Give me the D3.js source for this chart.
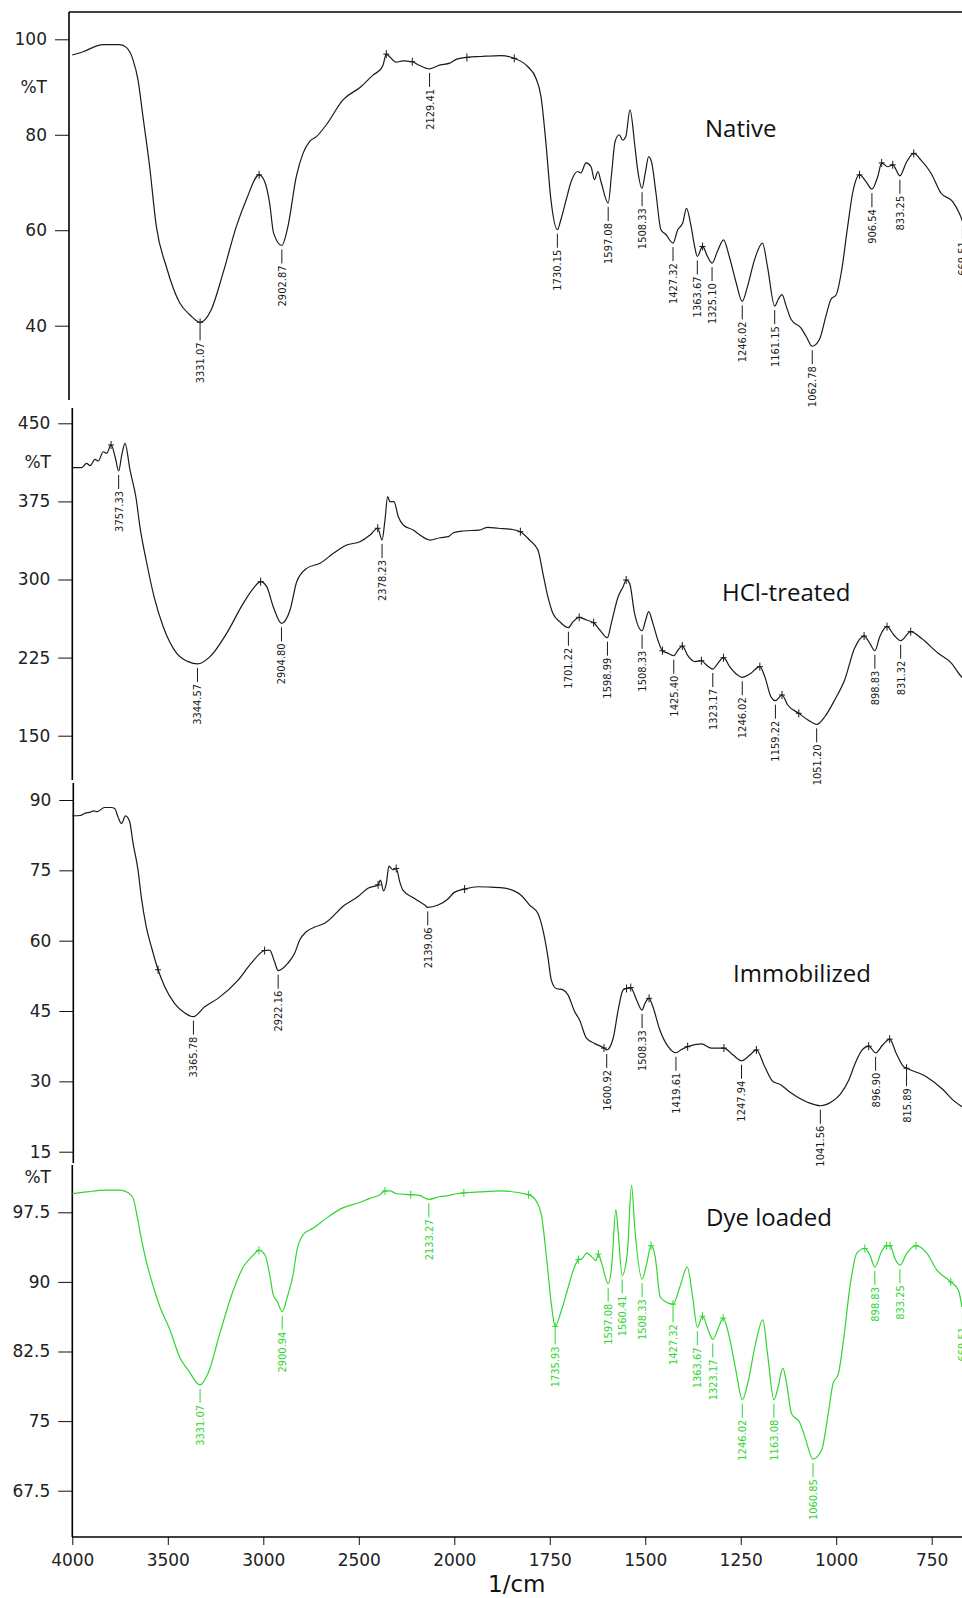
<!DOCTYPE html>
<html>
<head>
<meta charset="utf-8">
<script src="https://cdn.jsdelivr.net/npm/d3@7"></script>
<style>
  body { margin: 0; background: #fff; }
  svg { display: block; }
  .tick text { font-family: "DejaVu Sans", sans-serif; font-size: 17px; fill: #222; }
  .peak text { font-family: "Liberation Sans Narrow", "DejaVu Sans Condensed", sans-serif; font-stretch: condensed; font-size: 11px; }
</style>
</head>
<body>
<div id="chart"></div>
<script>
const svgWidth = 962;
const svgHeight = 1598;

// x ticks (1/cm)
const wnTicks = [4000, 3500, 3000, 2500, 2000, 1750, 1500, 1250, 1000, 750];
const seriesNames = ["Native", "HCl-treated", "Immobilized", "Dye loaded"];

// Native  [wavenumber, %T]
const nativeTicks = [100, 80, 60, 40];
const nativeData = [[4000,96.7],[3944,97.4],[3839,98.9],[3752,98.9],[3717,98.3],[3682,95.7],[3656,91.5],[3630,83.8],[3595,73.3],[3560,60.8],[3508,52.4],[3438,44.8],[3385,42.3],[3331.07,40.7],[3272,43.4],[3211,51.0],[3141,60.8],[3089,66.4],[3022,71.6],[2993,70.2],[2967,65.7],[2946,59.4],[2902.87,56.8],[2871,60.8],[2827,71.3],[2792,76.1],[2757,78.6],[2722,79.6],[2670,82.1],[2583,87.3],[2487,90.1],[2426,92.5],[2382,93.9],[2373,94.6],[2356,96.9],[2340,96.4],[2304,95.2],[2269,95.5],[2220,95.3],[2181,94.5],[2129.41,93.8],[2077,94.6],[2024,95.0],[1995,95.8],[1967,96.2],[1930,96.4],[1878,96.6],[1843,96.0],[1808,94.3],[1786,91.8],[1773,88.0],[1760,78.2],[1747,66.4],[1730.15,60.1],[1721,62.2],[1707,66.4],[1694,70.2],[1677,72.3],[1669,72.0],[1655,74.1],[1642,73.3],[1633,70.6],[1624,72.3],[1616,70.2],[1597.08,65.7],[1588,72.0],[1579,78.6],[1568,80.0],[1559,78.9],[1551,79.6],[1540,85.2],[1527,77.5],[1520,72.7],[1508.33,68.8],[1500,72.0],[1491,75.4],[1483,74.1],[1472,67.8],[1459,60.1],[1446,59.1],[1427.32,57.3],[1415,60.1],[1402,61.5],[1392,64.6],[1380,60.8],[1370,56.3],[1363.67,54.5],[1350,56.6],[1337,54.5],[1325.10,53.1],[1311,55.6],[1295,58.0],[1280,54.5],[1262,49.0],[1246.02,45.1],[1232,48.3],[1214,53.8],[1193,57.3],[1180,52.4],[1161.15,44.1],[1152,45.5],[1142,46.5],[1131,44.1],[1118,41.3],[1092,39.5],[1079,37.8],[1062.78,35.7],[1044,37.1],[1027,42.0],[1014,45.5],[1000,46.5],[987,51.0],[970,60.8],[957,67.8],[939,71.6],[922,70.2],[906.54,68.6],[891,71.3],[881,74.1],[865,73.3],[852,73.7],[833.25,71.4],[817,74.1],[797,76.1],[778,74.7],[752,72.0],[726,67.8],[695,66.0],[678,63.6],[669,61.8]];
const nativePeaks = [3331.07, 2902.87, 2129.41, 1730.15, 1597.08, 1508.33, 1427.32, 1363.67, 1325.10, 1246.02, 1161.15, 1062.78, 906.54, 833.25, 669.51];
const nativeCrosses = [3331.07, 3022, 2356, 2220, 1967, 1843, 1350, 939, 881, 852, 797];

// HCl-treated
const hclTicks = [450, 375, 300, 225, 150];
const hclData = [[4000,407.4],[3951,407.4],[3925,411.6],[3907,409.3],[3881,415.4],[3864,413.8],[3838,422.7],[3820,421.2],[3797,429.2],[3776,417.9],[3757.33,404.2],[3741,419.6],[3724,430.8],[3698,405.2],[3666,378.0],[3646,350.7],[3610,315.6],[3572,283.5],[3524,254.7],[3453,229.1],[3393,221.1],[3344.57,218.9],[3279,225.9],[3192,248.3],[3105,277.1],[3052,291.5],[3014,297.9],[2982,293.1],[2948,273.9],[2904.80,257.9],[2860,270.7],[2825,297.9],[2773,310.7],[2703,315.6],[2633,325.2],[2563,333.1],[2494,336.3],[2441,342.7],[2401,349.2],[2378.23,337.9],[2363,357.1],[2349,379.5],[2337,374.7],[2316,374.7],[2293,360.3],[2267,352.3],[2215,347.5],[2180,342.7],[2127,337.9],[2075,340.1],[2031,341.1],[2005,344.9],[1976,346.6],[1935,347.5],[1912,350.1],[1885,349.2],[1851,348.2],[1827,345.9],[1803,337.9],[1781,328.3],[1768,306.0],[1755,283.5],[1742,267.5],[1724,259.5],[1701.22,253.7],[1689,259.5],[1673,263.7],[1654,261.1],[1635,258.5],[1619,251.5],[1598.99,244.1],[1589,257.9],[1571,283.5],[1558,293.1],[1550,299.5],[1541,296.3],[1528,267.5],[1508.33,250.8],[1499,261.1],[1491,269.1],[1480,257.9],[1467,241.9],[1455,231.6],[1440,229.1],[1425.40,226.8],[1414,232.3],[1403,236.1],[1388,226.6],[1370,221.1],[1353,222.0],[1340,217.9],[1323.17,214.0],[1310,219.5],[1295,224.9],[1279,216.3],[1261,209.0],[1246.02,206.1],[1226,209.2],[1200,216.3],[1187,206.7],[1171,187.4],[1159.22,183.6],[1142,189.1],[1127,179.5],[1098,171.5],[1074,165.1],[1051.20,160.9],[1030,168.2],[1004,184.3],[978,203.5],[952,233.9],[927,245.7],[912,238.7],[898.83,231.6],[886,245.1],[867,254.7],[849,246.7],[831.32,241.2],[805,249.9],[777,243.5],[733,229.1],[698,219.5],[676,208.3],[668,205.0]];
const hclPeaks = [3757.33, 3344.57, 2904.80, 2378.23, 1701.22, 1598.99, 1508.33, 1425.40, 1323.17, 1246.02, 1159.22, 1051.20, 898.83, 831.32];
const hclCrosses = [3797, 3014, 2401, 1827, 1673, 1635, 1550, 1455, 1403, 1353, 1295, 1200, 1142, 1098, 927, 867, 805];

// Immobilized
const immTicks = [90, 75, 60, 45, 30, 15];
const immData = [[4000,86.6],[3958,86.7],[3932,87.2],[3905,87.4],[3888,87.7],[3871,87.5],[3831,88.4],[3796,88.4],[3778,88.2],[3761,86.4],[3743,85.0],[3721,86.6],[3700,85.4],[3682,80.8],[3656,75.1],[3639,69.4],[3613,63.0],[3586,58.7],[3551,53.8],[3516,50.2],[3464,46.6],[3411,44.6],[3365.78,43.8],[3307,45.9],[3237,47.7],[3132,51.6],[3063,55.2],[2993,57.9],[2967,58.0],[2941,55.5],[2922.16,53.6],[2871,55.2],[2836,57.3],[2810,60.1],[2775,61.9],[2731,62.9],[2679,63.7],[2574,67.6],[2504,69.4],[2452,71.2],[2399,71.9],[2387,72.9],[2370,70.6],[2356,72.2],[2342,75.9],[2321,75.1],[2304,75.4],[2286,72.6],[2269,70.8],[2208,69.0],[2155,67.6],[2139.06,67.1],[2085,67.6],[2033,68.9],[2000,70.3],[1973,71.0],[1938,71.5],[1903,71.4],[1868,71.2],[1825,69.7],[1803,67.6],[1781,65.8],[1768,62.3],[1755,56.6],[1746,51.6],[1733,49.8],[1715,49.5],[1702,48.4],[1685,44.9],[1672,43.1],[1654,39.2],[1633,38.1],[1608,37.1],[1600.92,36.7],[1584,39.2],[1571,45.2],[1558,49.5],[1549,49.8],[1538,50.0],[1523,47.4],[1508.33,45.2],[1501,46.6],[1490,47.7],[1480,45.9],[1462,41.0],[1440,37.4],[1419.61,36.1],[1405,36.8],[1389,37.4],[1353,38.0],[1327,37.1],[1294,37.1],[1270,35.6],[1247.94,34.4],[1226,35.6],[1209,36.7],[1187,33.1],[1165,29.9],[1148,29.4],[1118,27.5],[1074,25.5],[1041.56,24.8],[1011,25.7],[989,27.3],[967,30.3],[950,33.9],[932,36.7],[915,37.5],[896.90,36.1],[878,37.8],[860,39.0],[843,36.0],[823,33.1],[815.89,32.8],[764,31.0],[720,28.2],[694,26.0],[671,24.6]];
const immPeaks = [3365.78, 2922.16, 2139.06, 1600.92, 1508.33, 1419.61, 1247.94, 1041.56, 896.90, 815.89];
const immCrosses = [3551, 2993, 2399, 2304, 1973, 1608, 1549, 1538, 1490, 1389, 1294, 1209, 915, 860, 815.89];

// Dye loaded
const dyeTicks = [97.5, 90, 82.5, 75, 67.5];
const dyeData = [[4000,99.5],[3925,99.7],[3829,99.9],[3750,99.9],[3707,99.6],[3681,99.0],[3660,97.0],[3637,94.5],[3610,92.0],[3576,89.5],[3541,87.3],[3488,84.8],[3436,81.8],[3393,80.5],[3331.07,78.9],[3288,80.2],[3227,84.5],[3157,89.1],[3105,91.6],[3052,92.9],[3023,93.4],[2991,92.9],[2965,90.6],[2948,88.6],[2927,87.9],[2900.94,86.8],[2874,88.4],[2843,90.9],[2825,93.3],[2791,95.1],[2738,95.8],[2668,96.9],[2581,98.0],[2503,98.5],[2441,99.0],[2389,99.4],[2363,99.8],[2337,99.8],[2302,99.5],[2228,99.4],[2180,99.3],[2133.27,98.9],[2075,99.2],[2031,99.3],[1994,99.5],[1975,99.6],[1933,99.7],[1880,99.8],[1806,99.4],[1784,98.6],[1771,97.0],[1758,92.4],[1745,87.3],[1735.93,85.2],[1719,87.0],[1704,89.1],[1688,91.3],[1675,92.4],[1666,92.5],[1653,93.1],[1640,92.7],[1629,92.3],[1623,93.0],[1614,92.0],[1597.08,89.8],[1588,91.6],[1577,97.8],[1571,95.4],[1560.41,90.7],[1547,93.1],[1536,100.4],[1527,95.6],[1508.33,90.3],[1496,92.0],[1485,93.9],[1474,92.7],[1461,88.4],[1448,87.9],[1427.32,87.6],[1409,89.5],[1390,91.6],[1376,88.4],[1363.67,85.1],[1350,86.3],[1335,84.8],[1323.17,83.8],[1309,85.0],[1296,86.1],[1278,83.7],[1261,80.1],[1246.02,77.3],[1230,79.4],[1213,83.0],[1192,85.9],[1180,82.3],[1163.08,77.3],[1152,78.7],[1140,80.7],[1130,79.1],[1117,75.8],[1095,74.8],[1082,73.3],[1060.85,70.9],[1038,71.9],[1021,75.8],[1008,79.1],[995,80.0],[981,83.7],[964,89.5],[946,93.1],[925,93.6],[912,92.9],[898.83,91.6],[881,93.3],[868,93.9],[859,93.9],[846,92.5],[833.25,91.8],[815,93.1],[791,93.9],[763,93.1],[737,91.3],[700,90.0],[680,89.1],[671,87.3]];
const dyePeaks = [3331.07, 2900.94, 2133.27, 1735.93, 1597.08, 1560.41, 1508.33, 1427.32, 1363.67, 1323.17, 1246.02, 1163.08, 1060.85, 898.83, 833.25, 669.51];
const dyeCrosses = [3023, 2363, 2228, 1975, 1806, 1735.93, 1675, 1623, 1485, 1427.32, 1350, 1296, 925, 868, 859, 791, 700];

// layout of the stacked panels (pixel positions of first/last tick etc.)
const panels = [
  { name: seriesNames[0], data: nativeData, peaks: nativePeaks, crosses: nativeCrosses, ticks: nativeTicks,
    tickPx: [39.3, 325.7], axisX: 69, axisTop: 12, axisBottom: 400, unitY: 93, unitX: 47,
    color: "#1a1a1a", titleX: 705, titleY: 137, frame: true },
  { name: seriesNames[1], data: hclData, peaks: hclPeaks, crosses: hclCrosses, ticks: hclTicks,
    tickPx: [423.3, 735.7], axisX: 72.3, axisTop: 408, axisBottom: 780, unitY: 468, unitX: 51,
    color: "#1a1a1a", titleX: 722, titleY: 601 },
  { name: seriesNames[2], data: immData, peaks: immPeaks, crosses: immCrosses, ticks: immTicks,
    tickPx: [800, 1151.7], axisX: 73.3, axisTop: 783, axisBottom: 1163, unitY: null,
    color: "#1a1a1a", titleX: 733, titleY: 982 },
  { name: seriesNames[3], data: dyeData, peaks: dyePeaks, crosses: dyeCrosses, ticks: dyeTicks,
    tickPx: [1212.3, 1490.7], axisX: 72.3, axisTop: 1165, axisBottom: 1537, unitY: 1183, unitX: 51,
    color: "#2fd62f", titleX: 706, titleY: 1226 }
];

const svg = d3.select("#chart")
  .append("svg")
  .attr("width", svgWidth)
  .attr("height", svgHeight);

// 4000-2000 compressed, 2000-… expanded (two-slope axis)
const x = d3.scaleLinear()
  .domain([4000, 2000, 750])
  .range([72.3, 454.3, 931.7]);

function valueAt(data, wn) {
  const i = data.findIndex(d => d[0] <= wn);
  if (i === -1) return data[data.length - 1][1];
  if (i === 0) return data[0][1];
  const a = data[i - 1], b = data[i];
  const t = (a[0] - wn) / (a[0] - b[0]);
  return a[1] + t * (b[1] - a[1]);
}

panels.forEach(p => {
  const y = d3.scaleLinear()
    .domain([p.ticks[0], p.ticks[p.ticks.length - 1]])
    .range(p.tickPx);

  const g = svg.append("g");

  // y axis
  const ax = g.append("g")
    .attr("transform", `translate(${p.axisX},0)`)
    .call(d3.axisLeft(y).tickValues(p.ticks).tickSize(14).tickPadding(8).tickFormat(d => String(d)));
  ax.select(".domain").remove();
  ax.selectAll(".tick line").attr("stroke", "#111");
  g.append("line")
    .attr("x1", p.axisX).attr("x2", p.axisX)
    .attr("y1", p.axisTop).attr("y2", p.axisBottom)
    .attr("stroke", "#000").attr("stroke-width", 1.6);

  if (p.frame) {
    g.append("line")
      .attr("x1", p.axisX).attr("x2", svgWidth)
      .attr("y1", p.axisTop).attr("y2", p.axisTop)
      .attr("stroke", "#000").attr("stroke-width", 1.6);
  }

  if (p.unitY) {
    g.append("text")
      .attr("x", p.unitX).attr("y", p.unitY)
      .attr("text-anchor", "end")
      .attr("font-family", "DejaVu Sans, sans-serif")
      .attr("font-size", "17px")
      .attr("fill", "#222")
      .text("%T");
  }

  // spectrum
  const line = d3.line()
    .x(d => x(d[0]))
    .y(d => y(d[1]))
    .curve(d3.curveMonotoneX);

  g.append("path")
    .datum(p.data)
    .attr("d", line)
    .attr("fill", "none")
    .attr("stroke", p.color)
    .attr("stroke-width", 1.2);

  // small + markers
  p.crosses.forEach(wn => {
    const cx = x(wn), cy = y(valueAt(p.data, wn));
    g.append("path")
      .attr("d", `M${cx - 3},${cy}H${cx + 3}M${cx},${cy - 4}V${cy + 4}`)
      .attr("stroke", p.color).attr("stroke-width", 1);
  });

  // peak labels
  const pk = g.append("g").attr("class", "peak");
  p.peaks.forEach(wn => {
    const px = x(wn), py = y(valueAt(p.data, wn));
    pk.append("line")
      .attr("x1", px).attr("x2", px)
      .attr("y1", py + 4).attr("y2", py + 18)
      .attr("stroke", p.color).attr("stroke-width", 1);
    pk.append("text")
      .attr("transform", `translate(${px},${py + 20}) rotate(-90)`)
      .attr("text-anchor", "end")
      .attr("dy", "0.36em")
      .attr("fill", p.color)
      .text(wn.toFixed(2));
  });

  // sample name
  g.append("text")
    .attr("x", p.titleX).attr("y", p.titleY)
    .attr("font-family", "Open Sans, Lato, sans-serif")
    .attr("font-size", "24px")
    .attr("fill", "#111")
    .text(p.name);
});

// x axis
const xAxis = svg.append("g")
  .attr("transform", "translate(0,1537)")
  .call(d3.axisBottom(x).tickValues(wnTicks).tickSize(8).tickPadding(9).tickFormat(d3.format("d")));
xAxis.select(".domain").remove();
xAxis.selectAll(".tick line").attr("stroke", "#111");
svg.append("line")
  .attr("x1", 72.3).attr("x2", svgWidth)
  .attr("y1", 1537).attr("y2", 1537)
  .attr("stroke", "#000").attr("stroke-width", 1.6);

svg.append("text")
  .attr("x", 488).attr("y", 1592)
  .attr("font-family", "DejaVu Sans, sans-serif")
  .attr("font-size", "23px")
  .attr("fill", "#111")
  .text("1/cm");
</script>
</body>
</html>
